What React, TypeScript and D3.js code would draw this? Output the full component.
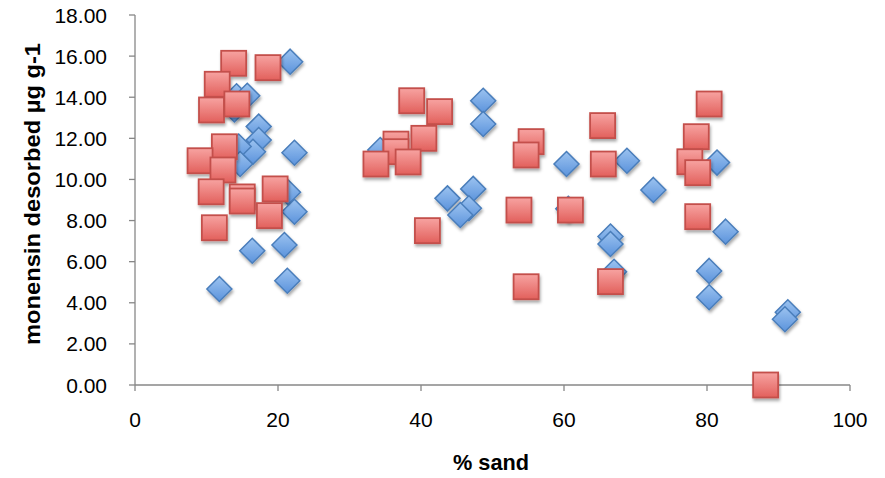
import React from "react";
import * as d3 from "d3";

const sandBlue = [21.7, 14.2, 15.7, 13.9, 17.3, 17.3, 16.5, 14.5, 22.3, 14.7, 21.4, 22.3, 20.9, 16.4, 21.3, 11.8, 34.3, 48.7, 48.7, 47.3, 43.7, 46.7, 45.5, 60.35, 60.6, 68.8, 72.5, 66.5, 66.5, 67.0, 81.4, 82.6, 80.3, 80.3, 91.3, 90.9];
const monBlue = [15.73, 14.05, 14.07, 13.4, 12.57, 11.92, 11.35, 11.6, 11.3, 10.75, 9.38, 8.43, 6.81, 6.53, 5.07, 4.67, 11.43, 13.83, 12.7, 9.54, 9.08, 8.6, 8.27, 10.75, 8.57, 10.91, 9.49, 7.22, 6.86, 5.51, 10.82, 7.46, 5.55, 4.27, 3.54, 3.2];

const sandRed = [13.8, 18.6, 11.5, 10.7, 14.25, 12.5, 9.1, 12.3, 10.65, 15.0, 15.0, 19.6, 18.8, 11.1, 38.7, 42.6, 36.5, 36.5, 40.4, 33.7, 38.2, 40.9, 55.4, 54.7, 53.7, 54.7, 80.3, 65.4, 78.5, 65.5, 77.6, 78.7, 60.9, 78.7, 66.5, 88.2];
const monRed = [15.65, 15.44, 14.63, 13.38, 13.67, 11.59, 10.91, 10.46, 9.4, 9.15, 8.95, 9.54, 8.24, 7.65, 13.83, 13.3, 11.72, 11.35, 12.0, 10.75, 10.85, 7.51, 11.84, 11.19, 8.51, 4.78, 13.67, 12.62, 12.08, 10.75, 10.86, 10.33, 8.51, 8.19, 5.03, 0.0];

const xTicks = [0, 20, 40, 60, 80, 100];
const yTicks = [0, 2, 4, 6, 8, 10, 12, 14, 16, 18];

const W = 885;
const H = 478;
const FONT = "'Liberation Sans', Arial, sans-serif";

export default function App() {
  const x = d3.scaleLinear().domain([0, 100]).range([135, 850]);
  const y = d3.scaleLinear().domain([0, 18]).range([385, 15]);
  const axisColor = "#878787";
  const half = 12.5;
  const dh = 12.5;
  const diamond = (cx: number, cy: number) =>
    `M${cx},${cy - dh}L${cx + dh},${cy}L${cx},${cy + dh}L${cx - dh},${cy}Z`;

  return (
    <svg width={W} height={H} style={{ position: "absolute", left: 0, top: 0, background: "#fff" }}>
      <defs>
        <linearGradient id="gBlue" x1="0" y1="0" x2="0" y2="1">
          <stop offset="0" stopColor="#9cc3f0" />
          <stop offset="1" stopColor="#5b93dc" />
        </linearGradient>
        <linearGradient id="gRed" x1="0" y1="0" x2="0" y2="1">
          <stop offset="0" stopColor="#f7a3a1" />
          <stop offset="1" stopColor="#e2605c" />
        </linearGradient>
        <filter id="shadow" x="-50%" y="-50%" width="200%" height="200%">
          <feDropShadow dx="1" dy="2.5" stdDeviation="1.6" floodColor="#000" floodOpacity="0.35" />
        </filter>
      </defs>

      {/* axes */}
      <line x1={x(0)} x2={x(0)} y1={y(18)} y2={y(0)} stroke={axisColor} strokeWidth={1.3} />
      <line x1={x(0)} x2={x(100)} y1={y(0)} y2={y(0)} stroke={axisColor} strokeWidth={1.3} />
      {yTicks.map((t) => (
        <g key={"y" + t}>
          <line x1={x(0) - 6} x2={x(0)} y1={y(t)} y2={y(t)} stroke={axisColor} strokeWidth={1.3} />
          <text x={107} y={y(t)} dy="0.36em" textAnchor="end" fontFamily={FONT} fontSize={21} fill="#000">
            {t.toFixed(2)}
          </text>
        </g>
      ))}
      {xTicks.map((t) => (
        <g key={"x" + t}>
          <line x1={x(t)} x2={x(t)} y1={y(0)} y2={y(0) + 6} stroke={axisColor} strokeWidth={1.3} />
          <text x={x(t)} y={427} textAnchor="middle" fontFamily={FONT} fontSize={21} fill="#000">
            {t}
          </text>
        </g>
      ))}

      {/* titles */}
      <text
        transform={`translate(40,194) rotate(-90)`}
        textAnchor="middle"
        fontFamily={FONT}
        fontWeight="bold"
        fontSize={22}
        textLength={302}
        lengthAdjust="spacingAndGlyphs"
        fill="#000"
      >
        monensin desorbed µg g-1
      </text>
      <text
        x={491}
        y={470}
        textAnchor="middle"
        fontFamily={FONT}
        fontWeight="bold"
        fontSize={22}
        textLength={76}
        lengthAdjust="spacingAndGlyphs"
        fill="#000"
      >
        % sand
      </text>

      {/* blue diamonds */}
      <g filter="url(#shadow)">
        {sandBlue.map((s, i) => (
          <path
            key={"b" + i}
            d={diamond(x(s), y(monBlue[i]))}
            fill="url(#gBlue)"
            stroke="#4a7ebb"
            strokeWidth={1.5}
          />
        ))}
      </g>

      {/* red squares */}
      <g filter="url(#shadow)">
        {sandRed.map((s, i) => (
          <rect
            key={"r" + i}
            x={x(s) - half}
            y={y(monRed[i]) - half}
            width={half * 2}
            height={half * 2}
            fill="url(#gRed)"
            stroke="#c4504c"
            strokeWidth={1.8}
          />
        ))}
      </g>
    </svg>
  );
}
